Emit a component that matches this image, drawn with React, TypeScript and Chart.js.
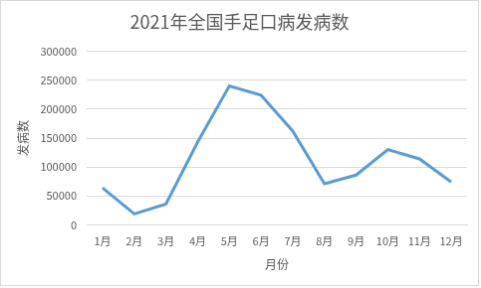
import React, { useEffect, useRef } from "react";
import { Chart, registerables } from "chart.js";

Chart.register(...registerables);

const months = ["1月", "2月", "3月", "4月", "5月", "6月", "7月", "8月", "9月", "10月", "11月", "12月"];
const cases = [64000, 19000, 36000, 143000, 240000, 224000, 162000, 71000, 86000, 130000, 114000, 74000];
const yTicks = [0, 50000, 100000, 150000, 200000, 250000, 300000];

const FONT = "'Noto Sans CJK SC', 'Noto Sans', sans-serif";
const TXT = "#595959";

export default function App() {
  const ref = useRef<HTMLCanvasElement | null>(null);
  useEffect(() => {
    document.body.style.margin = "0";
    const c = ref.current!;
    const chart = new Chart(c, {
      type: "line",
      data: {
        labels: months,
        datasets: [
          {
            data: cases,
            borderColor: "#5b9bd5",
            borderWidth: 3,
            pointRadius: 0,
            tension: 0,
            fill: false,
          },
        ],
      },
      options: {
        responsive: false,
        animation: false,
        layout: { padding: { left: 11, right: 11, top: 6, bottom: 13 } },
        plugins: {
          legend: { display: false },
          tooltip: { enabled: false },
          title: {
            display: true,
            text: "2021年全国手足口病发病数",
            color: TXT,
            font: { family: FONT, size: 18, weight: "normal" },
            padding: { top: 4, bottom: 19 },
          },
        },
        scales: {
          x: {
            offset: true,
            grid: { display: false, drawTicks: false },
            border: { display: true, color: "#d9d9d9" },
            ticks: { color: TXT, font: { family: FONT, size: 11 }, padding: 10, maxRotation: 0 },
            title: { display: true, text: "月份", color: TXT, font: { family: FONT, size: 12 }, padding: { top: 0, bottom: 0 } },
          },
          y: {
            min: 0,
            max: 300000,
            afterBuildTicks: (axis: any) => {
              axis.ticks = yTicks.map((v) => ({ value: v }));
            },
            grid: { color: "#d9d9d9", drawTicks: false },
            border: { display: false },
            ticks: {
              color: TXT,
              font: { family: FONT, size: 11 },
              padding: 10,
              callback: (v: any) => String(v),
            },
            title: { display: true, text: "发病数", color: TXT, font: { family: FONT, size: 12 }, padding: { top: 4, bottom: 0 } },
          },
        },
      },
    });
    return () => chart.destroy();
  }, []);
  return (
    <canvas
      ref={ref}
      width={479}
      height={286}
      style={{ border: "1px solid #d9d9d9", display: "block" }}
    />
  );
}
